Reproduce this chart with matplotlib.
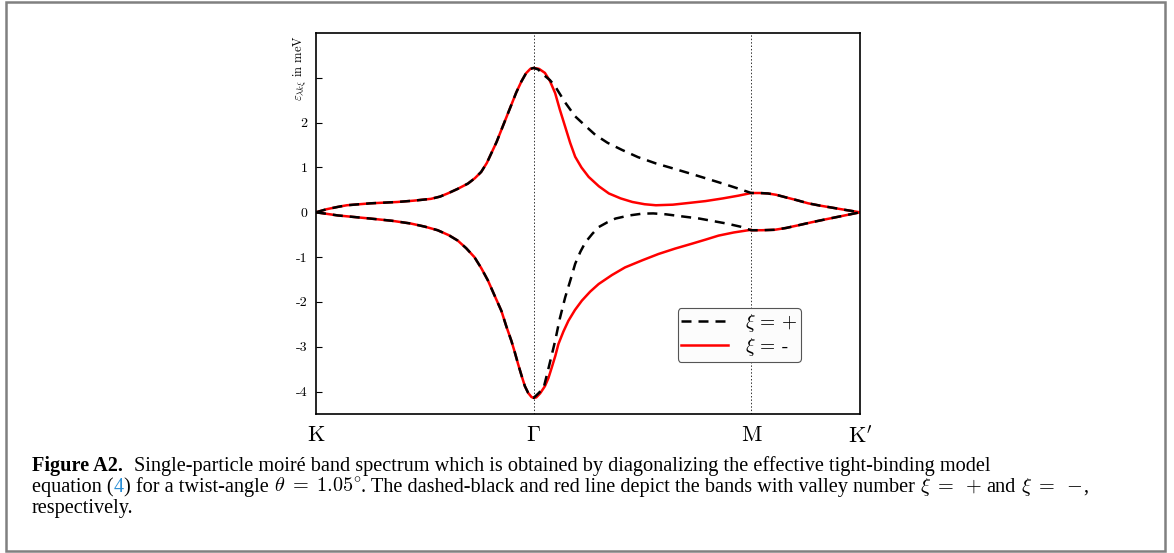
import numpy as np
import matplotlib
matplotlib.use("Agg")
import matplotlib.pyplot as plt
from matplotlib.patches import Rectangle

plt.rcParams['mathtext.fontset'] = 'cm'

# high-symmetry points along the path (K - Gamma - M - K')
sym_pos = [0.0, 1.0, 2.0, 2.5]
sym_labels = ['K', r'$\Gamma$', 'M', r"K$'$"]

# K -> Gamma, shared by both valleys
k_KG_up = [0.0, 0.05, 0.10, 0.142, 0.25, 0.374, 0.45, 0.528, 0.57, 0.605, 0.65, 0.698, 0.73,
           0.759, 0.785, 0.806, 0.83, 0.852, 0.875, 0.898, 0.92, 0.944, 0.965, 0.985, 1.0]
e_KG_up = [0.0, 0.07, 0.12, 0.157, 0.20, 0.23, 0.26, 0.30, 0.35, 0.42, 0.52, 0.64, 0.76,
           0.90, 1.10, 1.32, 1.57, 1.84, 2.12, 2.40, 2.67, 2.92, 3.10, 3.20, 3.22]
k_KG_lo = [0.0, 0.1, 0.25, 0.35, 0.435, 0.50, 0.559, 0.61, 0.651, 0.69, 0.728, 0.76, 0.79,
           0.82, 0.852, 0.875, 0.898, 0.914, 0.929, 0.945, 0.96, 0.975, 0.99, 1.0]
e_KG_lo = [0.0, -0.07, -0.14, -0.19, -0.25, -0.32, -0.40, -0.51, -0.63, -0.80, -1.0, -1.25, -1.52,
           -1.85, -2.2, -2.55, -2.87, -3.13, -3.39, -3.65, -3.88, -4.03, -4.12, -4.14]

# Gamma -> M, valley xi = +
k_GM_plus_up = [1.0, 1.02, 1.05, 1.075, 1.099, 1.145, 1.191, 1.24, 1.283, 1.34, 1.407, 1.48,
                1.562, 1.64, 1.716, 1.79, 1.870, 1.94, 2.0]
e_GM_plus_up = [3.22, 3.19, 3.05, 2.95, 2.81, 2.45, 2.14, 1.92, 1.73, 1.55, 1.39, 1.23,
                1.09, 0.98, 0.87, 0.76, 0.64, 0.53, 0.43]
k_GM_plus_lo = [1.0, 1.02, 1.046, 1.07, 1.099, 1.12, 1.145, 1.17, 1.191, 1.215, 1.238, 1.27,
                1.299, 1.34, 1.376, 1.44, 1.5, 1.55, 1.608, 1.68, 1.762, 1.886, 1.95, 2.0]
e_GM_plus_lo = [-4.14, -4.05, -3.92, -3.45, -2.87, -2.38, -1.90, -1.50, -1.15, -0.88, -0.67, -0.48,
                -0.33, -0.22, -0.14, -0.07, -0.03, -0.025, -0.045, -0.09, -0.14, -0.25, -0.32, -0.40]

# Gamma -> M, valley xi = -
k_GM_minus_up = [1.0, 1.025, 1.052, 1.075, 1.099, 1.12, 1.145, 1.168, 1.191, 1.22, 1.253, 1.30,
                 1.346, 1.40, 1.454, 1.51, 1.562, 1.64, 1.716, 1.79, 1.870, 1.94, 2.0]
e_GM_minus_up = [3.22, 3.20, 3.11, 2.93, 2.66, 2.30, 1.91, 1.55, 1.24, 1.0, 0.79, 0.58,
                 0.42, 0.31, 0.23, 0.18, 0.157, 0.17, 0.21, 0.25, 0.31, 0.37, 0.43]
k_GM_minus_lo = [1.0, 1.012, 1.03, 1.052, 1.068, 1.083, 1.10, 1.114, 1.137, 1.160, 1.19, 1.222,
                 1.26, 1.299, 1.36, 1.420, 1.50, 1.574, 1.65, 1.728, 1.79, 1.850, 1.92, 2.0]
e_GM_minus_lo = [-4.14, -4.13, -4.04, -3.88, -3.70, -3.47, -3.20, -2.94, -2.66, -2.42, -2.18, -1.97,
                 -1.77, -1.60, -1.40, -1.23, -1.07, -0.93, -0.81, -0.70, -0.61, -0.52, -0.45, -0.39]

# M -> K', shared by both valleys
k_MK_up = [2.0, 2.04, 2.077, 2.115, 2.154, 2.21, 2.262, 2.315, 2.370, 2.43, 2.5]
e_MK_up = [0.43, 0.43, 0.42, 0.39, 0.34, 0.27, 0.20, 0.15, 0.105, 0.055, 0.0]
k_MK_lo = [2.0, 2.05, 2.108, 2.16, 2.216, 2.28, 2.339, 2.42, 2.5]
e_MK_lo = [-0.40, -0.40, -0.39, -0.35, -0.29, -0.22, -0.16, -0.08, 0.0]

y_ticks = [-4, -3, -2, -1, 0, 1, 2, 3]
y_ticklabels = ['-4', '-3', '-2', '-1', '0', '1', '2', '']

W, H = 1174, 553


def band(*segs):
    ks = np.concatenate(segs[0::2])
    es = np.concatenate(segs[1::2])
    return ks, es


fig = plt.figure(figsize=(W / 100, H / 100), dpi=100)
ax = fig.add_axes([316 / W, 1 - 414 / H, 544 / W, 381 / H])

# valley xi = - (red, underneath)
for ks, es in [band(k_KG_up, e_KG_up, k_GM_minus_up, e_GM_minus_up, k_MK_up, e_MK_up),
               band(k_KG_lo, e_KG_lo, k_GM_minus_lo, e_GM_minus_lo, k_MK_lo, e_MK_lo)]:
    l_minus, = ax.plot(ks, es, color='red', lw=1.8, solid_joinstyle='round')

# valley xi = + (black dashed, on top)
for ks, es in [band(k_KG_up, e_KG_up, k_GM_plus_up, e_GM_plus_up, k_MK_up, e_MK_up),
               band(k_KG_lo, e_KG_lo, k_GM_plus_lo, e_GM_plus_lo, k_MK_lo, e_MK_lo)]:
    l_plus, = ax.plot(ks, es, color='black', lw=1.8, dashes=(4, 2.8))

for x in sym_pos[1:3]:
    ax.axvline(x, color='#333333', lw=0.7, ls=(0, (1.5, 2)), zorder=0)

ax.set_xlim(sym_pos[0], sym_pos[-1])
ax.set_ylim(-4.5, 4.0)
ax.set_xticks(sym_pos)
ax.set_xticklabels(sym_labels, fontsize=16, family='cmr10')
ax.tick_params(axis='x', length=0, pad=8)
ax.set_yticks(y_ticks)
ax.set_yticklabels(y_ticklabels, fontsize=10, family='cmr10')
ax.tick_params(axis='y', direction='in', length=4, width=0.8, right=False, pad=6)
for s in ax.spines.values():
    s.set_linewidth(1.2)

ax.set_ylabel(r'$\varepsilon_{\lambda k \xi}$ in meV', fontsize=9, family='cmr10')
ax.yaxis.set_label_coords(-0.012, 0.908)

leg = ax.legend([l_plus, l_minus], [r'$\xi$ = +', r'$\xi$ = -'],
                loc='lower right', bbox_to_anchor=(0.8915, 0.1365), borderaxespad=0,
                prop={'family': 'cmr10', 'size': 14},
                handlelength=2.4, handletextpad=0.85, borderpad=0.2, labelspacing=0.12,
                fancybox=True, framealpha=1)
leg.get_frame().set_edgecolor('#555555')
leg.get_frame().set_facecolor('#fcfcfc')
leg.get_frame().set_linewidth(0.8)

# outer frame
fig.patches.append(Rectangle((6 / W, 2 / H), 1159 / W, 549 / H, transform=fig.transFigure,
                             fill=False, edgecolor='#808080', lw=1.8))

# caption, placed piece by piece
cap_font = 'Liberation Serif'
cap_size = 14.6
link = '#2a8fd6'
renderer = fig.canvas.get_renderer()


def caption_line(y_px, pieces):
    x = 32
    for txt, color, weight, gap in pieces:
        x += gap
        t = fig.text(x / W, 1 - y_px / H, txt, fontsize=cap_size, family=cap_font,
                     color=color, fontweight=weight, va='baseline')
        x = t.get_window_extent(renderer).x1


caption_line(471, [
    ('Figure A2.', 'black', 'bold', 0),
    ('Single-particle moiré band spectrum which is obtained by diagonalizing the effective '
     'tight-binding model', 'black', 'normal', 11),
])
caption_line(492, [
    ('equation (', 'black', 'normal', 0),
    ('4', link, 'normal', 0),
    (') for a twist-angle', 'black', 'normal', 0),
    (r'$\theta\;=\;1.05^{\circ}$', 'black', 'normal', 5),
    ('. The dashed-black and red line depict the bands with valley number', 'black', 'normal', 0),
    (r'$\xi\;=\;+$', 'black', 'normal', 5),
    ('and', 'black', 'normal', 5),
    (r'$\xi\;=\;-$', 'black', 'normal', 5),
    (',', 'black', 'normal', 1),
])
caption_line(513, [('respectively.', 'black', 'normal', 0)])

fig.savefig('out.png', dpi=100)
